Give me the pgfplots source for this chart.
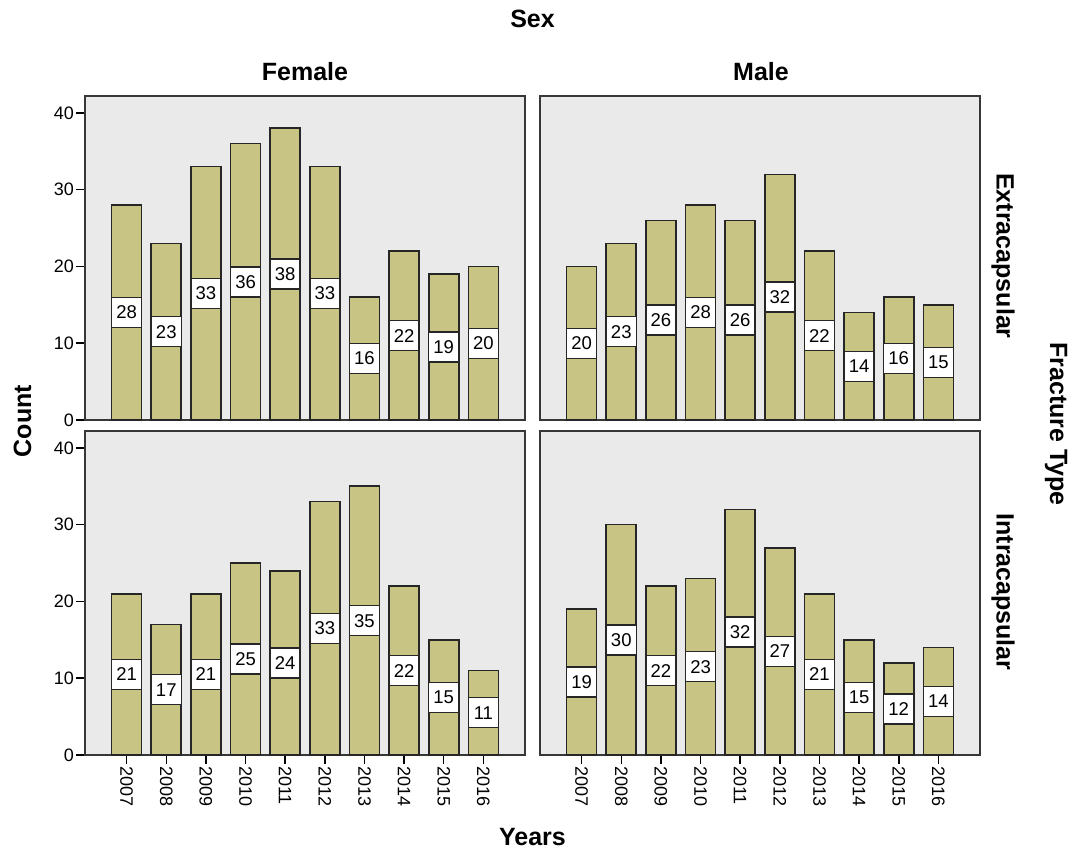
\documentclass[border=0pt]{standalone}
\usepackage{pgfplots}
\pgfplotsset{compat=1.18}
\usepackage{pgfplotstable}
\usepackage{fontspec}
\setmainfont{Liberation Sans}
\definecolor{barc}{RGB}{200,197,132}
\definecolor{bgc}{RGB}{234,234,234}
\definecolor{axc}{RGB}{55,55,55}

\pgfplotstableread{
x v
0 28
1 23
2 33
3 36
4 38
5 33
6 16
7 22
8 19
9 20
}\femext
\pgfplotstableread{
x v
0 20
1 23
2 26
3 28
4 26
5 32
6 22
7 14
8 16
9 15
}\malext
\pgfplotstableread{
x v
0 21
1 17
2 21
3 25
4 24
5 33
6 35
7 22
8 15
9 11
}\femint
\pgfplotstableread{
x v
0 19
1 30
2 22
3 23
4 32
5 27
6 21
7 15
8 12
9 14
}\malint

\pgfplotsset{
  panel/.style={
    scale only axis, width=440pt, height=324pt, anchor=south west,
    xmin=-1.05, xmax=10.05, ymin=0, ymax=42.2,
    axis background/.style={fill=bgc},
    axis line style={draw=axc, line width=1.8pt},
    tick style={draw=black, line width=1.5pt},
    tick align=outside, tick pos=left,
    major tick length=9pt,
    /pgf/number format/assume math mode=true,
    yticklabel style={font=\fontsize{18}{20}\selectfont, inner sep=1pt, xshift=-1pt},
    xtick={0,...,9},
    xticklabels={2007,2008,2009,2010,2011,2012,2013,2014,2015,2016},
    xticklabel style={rotate=-90, anchor=west, inner sep=2pt, font=\fontsize{18}{20}\selectfont},
    ytick={0,10,20,30,40},
    clip=false,
  },
  noxt/.style={xtick=\empty},
  noyt/.style={ytick=\empty},
  bars/.style={ybar, bar width=30pt, bar shift=0pt, fill=barc, draw=black!85, line width=1.6pt},
  labs/.style={draw=none, mark=none, nodes near coords, point meta=explicit,
    every node near coord/.style={anchor=center, fill=white, draw=black!85, line width=1.4pt,
      minimum width=30pt, minimum height=30pt, inner sep=0pt,
      font=\fontsize{18.5}{20}\selectfont}},
}

\begin{document}
\begin{tikzpicture}
\begin{axis}[panel, noxt, at={(85pt,-420pt)}]
\addplot[bars] table[x=x, y=v] {\femext};
\addplot[labs] table[x=x, y expr=\thisrow{v}/2, meta=v] {\femext};
\end{axis}
\begin{axis}[panel, noxt, noyt, at={(540pt,-420pt)}]
\addplot[bars] table[x=x, y=v] {\malext};
\addplot[labs] table[x=x, y expr=\thisrow{v}/2, meta=v] {\malext};
\end{axis}
\begin{axis}[panel, at={(85pt,-755pt)}]
\addplot[bars] table[x=x, y=v] {\femint};
\addplot[labs] table[x=x, y expr=\thisrow{v}/2, meta=v] {\femint};
\end{axis}
\begin{axis}[panel, noyt, at={(540pt,-755pt)}]
\addplot[bars] table[x=x, y=v] {\malint};
\addplot[labs] table[x=x, y expr=\thisrow{v}/2, meta=v] {\malint};
\end{axis}

\begin{scope}[every node/.style={font=\bfseries\fontsize{25}{28}\selectfont, inner sep=0pt}]
\node at (532.5pt,-19pt) {Sex};
\node at (305pt,-72pt) {Female};
\node at (761pt,-72pt) {Male};
\node[rotate=90] at (22.5pt,-421pt) {Count};
\node at (532.5pt,-837pt) {Years};
\node[rotate=-90] at (1003pt,-256pt) {Extracapsular};
\node[rotate=-90] at (1003pt,-592pt) {Intracapsular};
\node[rotate=-90] at (1056pt,-424pt) {Fracture Type};
\end{scope}
\path (0pt,0pt) rectangle (1073pt,-852pt);
\end{tikzpicture}
\end{document}
